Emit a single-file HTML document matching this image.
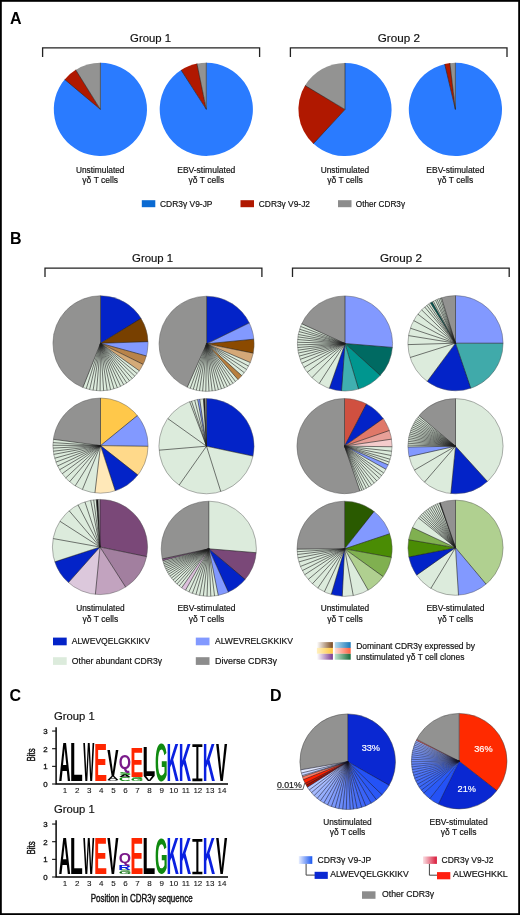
<!DOCTYPE html>
<html><head><meta charset="utf-8"><style>
html,body{margin:0;padding:0;background:#fff;}
body{width:520px;height:915px;overflow:hidden;}
svg{display:block;font-family:"Liberation Sans", sans-serif;will-change:transform;}
</style></head><body>
<svg width="520" height="915" viewBox="0 0 520 915">
<defs><linearGradient id="g1"><stop offset="0" stop-color="#ffffff"/><stop offset="1" stop-color="#7a4a20"/></linearGradient><linearGradient id="g2"><stop offset="0" stop-color="#fff0c0"/><stop offset="1" stop-color="#ffc840"/></linearGradient><linearGradient id="g3"><stop offset="0" stop-color="#ffffff"/><stop offset="1" stop-color="#7a3a90"/></linearGradient><linearGradient id="g4"><stop offset="0" stop-color="#b8ddee"/><stop offset="1" stop-color="#1a78b8"/></linearGradient><linearGradient id="g5"><stop offset="0" stop-color="#ffe0d8"/><stop offset="1" stop-color="#ff6040"/></linearGradient><linearGradient id="g6"><stop offset="0" stop-color="#c0e4d0"/><stop offset="1" stop-color="#1a6a3a"/></linearGradient><linearGradient id="gb"><stop offset="0" stop-color="#e8eeff"/><stop offset="1" stop-color="#1a58f0"/></linearGradient><linearGradient id="gr"><stop offset="0" stop-color="#fae0e4"/><stop offset="1" stop-color="#d81838"/></linearGradient></defs>
<rect x="0" y="0" width="520" height="915" fill="#fff"/>
<text x="10" y="23.5" font-size="16" font-weight="bold" fill="#000">A</text>
<text x="150.6" y="42.2" font-size="11.6" text-anchor="middle" textLength="41" lengthAdjust="spacingAndGlyphs" fill="#111" stroke="#111" stroke-width="0.18">Group 1</text>
<text x="398.8" y="42.2" font-size="11.6" text-anchor="middle" textLength="42.2" lengthAdjust="spacingAndGlyphs" fill="#111" stroke="#111" stroke-width="0.18">Group 2</text>
<path d="M42.6,57.0V47.8H259.6V57.0" fill="none" stroke="#222" stroke-width="1.3"/>
<path d="M290.4,57.0V47.8H507.0V57.0" fill="none" stroke="#222" stroke-width="1.3"/>
<path d="M100.40,109.40L100.40,62.80A46.6,46.6 0 1,1 65.02,79.07Z" fill="#2a7bff"/>
<path d="M100.40,109.40L64.70,79.45A46.6,46.6 0 0,1 76.12,69.62Z" fill="#b01800"/>
<path d="M100.40,109.40L75.71,69.88A46.6,46.6 0 0,1 100.40,62.80Z" fill="#939392"/>
<path d="M100.40,109.40L100.40,62.80M100.40,109.40L64.70,79.45M100.40,109.40L75.71,69.88" fill="none" stroke="#222" stroke-width="0.6"/>
<path d="M206.30,109.30L206.30,62.70A46.6,46.6 0 1,1 181.54,69.82Z" fill="#2a7bff"/>
<path d="M206.30,109.30L181.12,70.09A46.6,46.6 0 0,1 197.41,63.56Z" fill="#b01800"/>
<path d="M206.30,109.30L196.93,63.65A46.6,46.6 0 0,1 206.30,62.70Z" fill="#939392"/>
<path d="M206.30,109.30L206.30,62.70M206.30,109.30L181.12,70.09M206.30,109.30L196.93,63.65" fill="none" stroke="#222" stroke-width="0.6"/>
<path d="M345.00,109.50L345.00,62.90A46.6,46.6 0 1,1 312.98,143.36Z" fill="#2a7bff"/>
<path d="M345.00,109.50L313.34,143.69A46.6,46.6 0 0,1 305.31,85.08Z" fill="#b01800"/>
<path d="M345.00,109.50L305.06,85.50A46.6,46.6 0 0,1 345.00,62.90Z" fill="#939392"/>
<path d="M345.00,109.50L345.00,62.90M345.00,109.50L313.34,143.69M345.00,109.50L305.06,85.50" fill="none" stroke="#222" stroke-width="0.6"/>
<path d="M455.40,109.40L455.40,62.80A46.6,46.6 0 1,1 445.16,63.94Z" fill="#2a7bff"/>
<path d="M455.40,109.40L444.68,64.05A46.6,46.6 0 0,1 450.37,63.07Z" fill="#b01800"/>
<path d="M455.40,109.40L449.88,63.13A46.6,46.6 0 0,1 455.40,62.80Z" fill="#939392"/>
<path d="M455.40,109.40L455.40,62.80M455.40,109.40L444.68,64.05M455.40,109.40L449.88,63.13" fill="none" stroke="#222" stroke-width="0.6"/>
<text x="100.2" y="172.8" font-size="8.5" text-anchor="middle" textLength="48.5" lengthAdjust="spacingAndGlyphs" fill="#111" stroke="#111" stroke-width="0.18">Unstimulated</text>
<text x="100.2" y="183.4" font-size="8.5" text-anchor="middle" fill="#111" stroke="#111" stroke-width="0.18">γδ T cells</text>
<text x="206.3" y="172.8" font-size="8.5" text-anchor="middle" fill="#111" stroke="#111" stroke-width="0.18">EBV-stimulated</text>
<text x="206.3" y="183.4" font-size="8.5" text-anchor="middle" fill="#111" stroke="#111" stroke-width="0.18">γδ T cells</text>
<text x="345.0" y="172.8" font-size="8.5" text-anchor="middle" textLength="48.5" lengthAdjust="spacingAndGlyphs" fill="#111" stroke="#111" stroke-width="0.18">Unstimulated</text>
<text x="345.0" y="183.4" font-size="8.5" text-anchor="middle" fill="#111" stroke="#111" stroke-width="0.18">γδ T cells</text>
<text x="455.4" y="172.8" font-size="8.5" text-anchor="middle" fill="#111" stroke="#111" stroke-width="0.18">EBV-stimulated</text>
<text x="455.4" y="183.4" font-size="8.5" text-anchor="middle" fill="#111" stroke="#111" stroke-width="0.18">γδ T cells</text>
<rect x="141.8" y="200.2" width="13.5" height="7" fill="#0a6ad2"/>
<text x="160" y="206.5" font-size="8.5" textLength="52.5" lengthAdjust="spacingAndGlyphs" fill="#111" stroke="#111" stroke-width="0.18">CDR3γ V9-JP</text>
<rect x="240.5" y="200.2" width="13.5" height="7" fill="#b01800"/>
<text x="258.8" y="206.5" font-size="8.5" textLength="51.2" lengthAdjust="spacingAndGlyphs" fill="#111" stroke="#111" stroke-width="0.18">CDR3γ V9-J2</text>
<rect x="338" y="200.2" width="13.5" height="7" fill="#8c8c8c"/>
<text x="355.8" y="206.5" font-size="8.5" textLength="49.2" lengthAdjust="spacingAndGlyphs" fill="#111" stroke="#111" stroke-width="0.18">Other CDR3γ</text>
<text x="10" y="243.8" font-size="16" font-weight="bold" fill="#000">B</text>
<text x="152.6" y="261.9" font-size="11.6" text-anchor="middle" textLength="41" lengthAdjust="spacingAndGlyphs" fill="#111" stroke="#111" stroke-width="0.18">Group 1</text>
<text x="401.0" y="261.9" font-size="11.6" text-anchor="middle" textLength="42.2" lengthAdjust="spacingAndGlyphs" fill="#111" stroke="#111" stroke-width="0.18">Group 2</text>
<path d="M45.0,277.1V268.1H261.9V277.1" fill="none" stroke="#222" stroke-width="1.3"/>
<path d="M292.5,277.1V268.1H509.2V277.1" fill="none" stroke="#222" stroke-width="1.3"/>
<path d="M100.50,343.30L100.50,295.70A47.6,47.6 0 0,1 141.30,318.78Z" fill="#0323c8"/>
<path d="M100.50,343.30L141.04,318.36A47.6,47.6 0 0,1 148.09,342.14Z" fill="#784000"/>
<path d="M100.50,343.30L148.07,341.64A47.6,47.6 0 0,1 146.26,356.42Z" fill="#8299ff"/>
<path d="M100.50,343.30L146.39,355.94A47.6,47.6 0 0,1 142.95,364.84Z" fill="#b8834a"/>
<path d="M100.50,343.30L143.17,364.39A47.6,47.6 0 0,1 139.06,371.21Z" fill="#d4aa78"/>
<path d="M100.50,343.30L139.35,370.81A47.6,47.6 0 0,1 136.89,373.99Z" fill="#dcebdc"/>
<path d="M100.50,343.30L137.21,373.61A47.6,47.6 0 0,1 134.52,376.60Z" fill="#dcebdc"/>
<path d="M100.50,343.30L134.86,376.24A47.6,47.6 0 0,1 131.96,379.02Z" fill="#dcebdc"/>
<path d="M100.50,343.30L132.33,378.69A47.6,47.6 0 0,1 129.23,381.25Z" fill="#dcebdc"/>
<path d="M100.50,343.30L129.62,380.95A47.6,47.6 0 0,1 126.34,383.28Z" fill="#dcebdc"/>
<path d="M100.50,343.30L126.76,383.00A47.6,47.6 0 0,1 123.31,385.08Z" fill="#dcebdc"/>
<path d="M100.50,343.30L123.75,384.84A47.6,47.6 0 0,1 120.16,386.65Z" fill="#dcebdc"/>
<path d="M100.50,343.30L120.61,386.44A47.6,47.6 0 0,1 116.89,387.99Z" fill="#dcebdc"/>
<path d="M100.50,343.30L117.36,387.81A47.6,47.6 0 0,1 113.54,389.08Z" fill="#dcebdc"/>
<path d="M100.50,343.30L114.02,388.94A47.6,47.6 0 0,1 110.12,389.92Z" fill="#dcebdc"/>
<path d="M100.50,343.30L110.60,389.82A47.6,47.6 0 0,1 106.64,390.50Z" fill="#dcebdc"/>
<path d="M100.50,343.30L107.13,390.44A47.6,47.6 0 0,1 103.13,390.83Z" fill="#dcebdc"/>
<path d="M100.50,343.30L103.63,390.80A47.6,47.6 0 0,1 99.60,390.89Z" fill="#dcebdc"/>
<path d="M100.50,343.30L100.10,390.90A47.6,47.6 0 0,1 96.08,390.69Z" fill="#dcebdc"/>
<path d="M100.50,343.30L96.58,390.74A47.6,47.6 0 0,1 92.59,390.24Z" fill="#dcebdc"/>
<path d="M100.50,343.30L93.08,390.32A47.6,47.6 0 0,1 89.14,389.52Z" fill="#dcebdc"/>
<path d="M100.50,343.30L89.62,389.64A47.6,47.6 0 0,1 85.75,388.56Z" fill="#dcebdc"/>
<path d="M100.50,343.30L86.22,388.71A47.6,47.6 0 0,1 82.44,387.34Z" fill="#dcebdc"/>
<path d="M100.50,343.30L82.90,387.53A47.6,47.6 0 0,1 100.50,295.70Z" fill="#929291"/>
<path d="M100.50,343.30L100.50,295.70M100.50,343.30L141.04,318.36M100.50,343.30L148.07,341.64M100.50,343.30L146.39,355.94M100.50,343.30L143.17,364.39M100.50,343.30L139.35,370.81M100.50,343.30L137.21,373.61M100.50,343.30L134.86,376.24M100.50,343.30L132.33,378.69M100.50,343.30L129.62,380.95M100.50,343.30L126.76,383.00M100.50,343.30L123.75,384.84M100.50,343.30L120.61,386.44M100.50,343.30L117.36,387.81M100.50,343.30L114.02,388.94M100.50,343.30L110.60,389.82M100.50,343.30L107.13,390.44M100.50,343.30L103.63,390.80M100.50,343.30L100.10,390.90M100.50,343.30L96.58,390.74M100.50,343.30L93.08,390.32M100.50,343.30L89.62,389.64M100.50,343.30L86.22,388.71M100.50,343.30L82.90,387.53" fill="none" stroke="#1e1e1e" stroke-width="0.6"/>
<circle cx="100.5" cy="343.3" r="47.6" fill="none" stroke="#555" stroke-width="0.45"/>
<path d="M206.60,343.80L206.60,296.20A47.6,47.6 0 0,1 249.56,323.31Z" fill="#0323c8"/>
<path d="M206.60,343.80L249.35,322.86A47.6,47.6 0 0,1 254.02,339.65Z" fill="#8299ff"/>
<path d="M206.60,343.80L253.97,339.16A47.6,47.6 0 0,1 253.18,353.62Z" fill="#8b4a00"/>
<path d="M206.60,343.80L253.28,353.13A47.6,47.6 0 0,1 250.15,363.01Z" fill="#d4a878"/>
<path d="M206.60,343.80L250.35,362.55A47.6,47.6 0 0,1 248.41,366.55Z" fill="#dcebdc"/>
<path d="M206.60,343.80L248.65,366.11A47.6,47.6 0 0,1 246.38,369.93Z" fill="#dcebdc"/>
<path d="M206.60,343.80L246.66,369.52A47.6,47.6 0 0,1 244.08,373.14Z" fill="#dcebdc"/>
<path d="M206.60,343.80L244.39,372.74A47.6,47.6 0 0,1 241.53,376.14Z" fill="#dcebdc"/>
<path d="M206.60,343.80L241.86,375.77A47.6,47.6 0 0,1 237.64,379.89Z" fill="#b87f3f"/>
<path d="M206.60,343.80L238.02,379.56A47.6,47.6 0 0,1 235.15,381.89Z" fill="#dcebdc"/>
<path d="M206.60,343.80L235.55,381.58A47.6,47.6 0 0,1 232.54,383.71Z" fill="#dcebdc"/>
<path d="M206.60,343.80L232.95,383.44A47.6,47.6 0 0,1 229.81,385.36Z" fill="#dcebdc"/>
<path d="M206.60,343.80L230.24,385.12A47.6,47.6 0 0,1 226.97,386.82Z" fill="#dcebdc"/>
<path d="M206.60,343.80L227.42,386.61A47.6,47.6 0 0,1 224.04,388.09Z" fill="#dcebdc"/>
<path d="M206.60,343.80L224.50,387.90A47.6,47.6 0 0,1 221.03,389.16Z" fill="#dcebdc"/>
<path d="M206.60,343.80L221.51,389.00A47.6,47.6 0 0,1 217.96,390.02Z" fill="#dcebdc"/>
<path d="M206.60,343.80L218.45,389.90A47.6,47.6 0 0,1 214.84,390.68Z" fill="#dcebdc"/>
<path d="M206.60,343.80L215.33,390.59A47.6,47.6 0 0,1 211.68,391.13Z" fill="#dcebdc"/>
<path d="M206.60,343.80L212.18,391.07A47.6,47.6 0 0,1 208.50,391.36Z" fill="#dcebdc"/>
<path d="M206.60,343.80L209.00,391.34A47.6,47.6 0 0,1 205.31,391.38Z" fill="#dcebdc"/>
<path d="M206.60,343.80L205.81,391.39A47.6,47.6 0 0,1 202.13,391.19Z" fill="#dcebdc"/>
<path d="M206.60,343.80L202.62,391.23A47.6,47.6 0 0,1 198.96,390.78Z" fill="#dcebdc"/>
<path d="M206.60,343.80L199.45,390.86A47.6,47.6 0 0,1 195.83,390.17Z" fill="#dcebdc"/>
<path d="M206.60,343.80L196.32,390.28A47.6,47.6 0 0,1 192.75,389.34Z" fill="#dcebdc"/>
<path d="M206.60,343.80L193.23,389.48A47.6,47.6 0 0,1 189.73,388.31Z" fill="#dcebdc"/>
<path d="M206.60,343.80L190.20,388.48A47.6,47.6 0 0,1 186.79,387.08Z" fill="#dcebdc"/>
<path d="M206.60,343.80L187.24,387.28A47.6,47.6 0 0,1 206.60,296.20Z" fill="#929291"/>
<path d="M206.60,343.80L206.60,296.20M206.60,343.80L249.35,322.86M206.60,343.80L253.97,339.16M206.60,343.80L253.28,353.13M206.60,343.80L250.35,362.55M206.60,343.80L248.65,366.11M206.60,343.80L246.66,369.52M206.60,343.80L244.39,372.74M206.60,343.80L241.86,375.77M206.60,343.80L238.02,379.56M206.60,343.80L235.55,381.58M206.60,343.80L232.95,383.44M206.60,343.80L230.24,385.12M206.60,343.80L227.42,386.61M206.60,343.80L224.50,387.90M206.60,343.80L221.51,389.00M206.60,343.80L218.45,389.90M206.60,343.80L215.33,390.59M206.60,343.80L212.18,391.07M206.60,343.80L209.00,391.34M206.60,343.80L205.81,391.39M206.60,343.80L202.62,391.23M206.60,343.80L199.45,390.86M206.60,343.80L196.32,390.28M206.60,343.80L193.23,389.48M206.60,343.80L190.20,388.48M206.60,343.80L187.24,387.28" fill="none" stroke="#1e1e1e" stroke-width="0.6"/>
<circle cx="206.6" cy="343.8" r="47.6" fill="none" stroke="#555" stroke-width="0.45"/>
<path d="M345.00,343.50L345.00,295.90A47.6,47.6 0 0,1 392.40,347.90Z" fill="#8299ff"/>
<path d="M345.00,343.50L392.44,347.40A47.6,47.6 0 0,1 380.04,375.72Z" fill="#006a62"/>
<path d="M345.00,343.50L380.37,375.35A47.6,47.6 0 0,1 358.12,389.26Z" fill="#00968f"/>
<path d="M345.00,343.50L358.60,389.12A47.6,47.6 0 0,1 341.02,390.93Z" fill="#40b0b0"/>
<path d="M345.00,343.50L341.51,390.97A47.6,47.6 0 0,1 328.88,388.29Z" fill="#0323c8"/>
<path d="M345.00,343.50L329.35,388.45A47.6,47.6 0 0,1 318.80,383.24Z" fill="#dcebdc"/>
<path d="M345.00,343.50L319.21,383.51A47.6,47.6 0 0,1 311.58,377.39Z" fill="#dcebdc"/>
<path d="M345.00,343.50L311.93,377.74A47.6,47.6 0 0,1 306.84,371.95Z" fill="#dcebdc"/>
<path d="M345.00,343.50L307.14,372.35A47.6,47.6 0 0,1 303.65,367.08Z" fill="#dcebdc"/>
<path d="M345.00,343.50L303.90,367.52A47.6,47.6 0 0,1 301.48,362.78Z" fill="#dcebdc"/>
<path d="M345.00,343.50L301.69,363.24A47.6,47.6 0 0,1 299.97,358.92Z" fill="#dcebdc"/>
<path d="M345.00,343.50L300.13,359.39A47.6,47.6 0 0,1 298.98,355.66Z" fill="#dcebdc"/>
<path d="M345.00,343.50L299.11,356.14A47.6,47.6 0 0,1 298.26,352.50Z" fill="#dcebdc"/>
<path d="M345.00,343.50L298.36,352.99A47.6,47.6 0 0,1 297.81,349.71Z" fill="#dcebdc"/>
<path d="M345.00,343.50L297.87,350.21A47.6,47.6 0 0,1 297.53,347.07Z" fill="#dcebdc"/>
<path d="M345.00,343.50L297.57,347.57A47.6,47.6 0 0,1 297.41,344.41Z" fill="#dcebdc"/>
<path d="M345.00,343.50L297.42,344.91A47.6,47.6 0 0,1 297.43,341.76Z" fill="#dcebdc"/>
<path d="M345.00,343.50L297.42,342.25A47.6,47.6 0 0,1 297.61,339.02Z" fill="#dcebdc"/>
<path d="M345.00,343.50L297.57,339.52A47.6,47.6 0 0,1 297.94,336.38Z" fill="#dcebdc"/>
<path d="M345.00,343.50L297.86,336.88A47.6,47.6 0 0,1 298.37,333.93Z" fill="#dcebdc"/>
<path d="M345.00,343.50L298.27,334.42A47.6,47.6 0 0,1 299.04,331.10Z" fill="#dcebdc"/>
<path d="M345.00,343.50L298.92,331.58A47.6,47.6 0 0,1 299.76,328.71Z" fill="#dcebdc"/>
<path d="M345.00,343.50L299.60,329.19A47.6,47.6 0 0,1 300.74,325.98Z" fill="#dcebdc"/>
<path d="M345.00,343.50L300.56,326.44A47.6,47.6 0 0,1 301.89,323.31Z" fill="#dcebdc"/>
<path d="M345.00,343.50L301.69,323.76A47.6,47.6 0 0,1 345.00,295.90Z" fill="#929291"/>
<path d="M345.00,343.50L345.00,295.90M345.00,343.50L392.44,347.40M345.00,343.50L380.37,375.35M345.00,343.50L358.60,389.12M345.00,343.50L341.51,390.97M345.00,343.50L329.35,388.45M345.00,343.50L319.21,383.51M345.00,343.50L311.93,377.74M345.00,343.50L307.14,372.35M345.00,343.50L303.90,367.52M345.00,343.50L301.69,363.24M345.00,343.50L300.13,359.39M345.00,343.50L299.11,356.14M345.00,343.50L298.36,352.99M345.00,343.50L297.87,350.21M345.00,343.50L297.57,347.57M345.00,343.50L297.42,344.91M345.00,343.50L297.42,342.25M345.00,343.50L297.57,339.52M345.00,343.50L297.86,336.88M345.00,343.50L298.27,334.42M345.00,343.50L298.92,331.58M345.00,343.50L299.60,329.19M345.00,343.50L300.56,326.44M345.00,343.50L301.69,323.76" fill="none" stroke="#1e1e1e" stroke-width="0.6"/>
<circle cx="345.0" cy="343.5" r="47.6" fill="none" stroke="#555" stroke-width="0.45"/>
<path d="M455.50,343.20L455.50,295.60A47.6,47.6 0 0,1 503.10,343.70Z" fill="#8299ff"/>
<path d="M455.50,343.20L503.10,343.20A47.6,47.6 0 0,1 470.29,388.44Z" fill="#40aaaa"/>
<path d="M455.50,343.20L470.76,388.29A47.6,47.6 0 0,1 426.79,381.16Z" fill="#0323c8"/>
<path d="M455.50,343.20L427.19,381.46A47.6,47.6 0 0,1 409.96,357.04Z" fill="#dcebdc"/>
<path d="M455.50,343.20L410.10,357.51A47.6,47.6 0 0,1 407.91,344.11Z" fill="#dcebdc"/>
<path d="M455.50,343.20L407.92,344.61A47.6,47.6 0 0,1 408.59,335.10Z" fill="#dcebdc"/>
<path d="M455.50,343.20L408.51,335.59A47.6,47.6 0 0,1 410.49,327.70Z" fill="#dcebdc"/>
<path d="M455.50,343.20L410.33,328.18A47.6,47.6 0 0,1 413.87,320.12Z" fill="#dcebdc"/>
<path d="M455.50,343.20L413.63,320.56A47.6,47.6 0 0,1 418.14,313.70Z" fill="#dcebdc"/>
<path d="M455.50,343.20L417.84,314.09A47.6,47.6 0 0,1 421.90,309.48Z" fill="#dcebdc"/>
<path d="M455.50,343.20L421.55,309.84A47.6,47.6 0 0,1 425.03,306.63Z" fill="#dcebdc"/>
<path d="M455.50,343.20L424.65,306.95A47.6,47.6 0 0,1 427.12,304.99Z" fill="#dcebdc"/>
<path d="M455.50,343.20L426.72,305.29A47.6,47.6 0 0,1 429.02,303.65Z" fill="#dcebdc"/>
<path d="M455.50,343.20L428.61,303.92A47.6,47.6 0 0,1 430.70,302.57Z" fill="#dcebdc"/>
<path d="M455.50,343.20L430.28,302.83A47.6,47.6 0 0,1 432.50,301.53Z" fill="#005a55"/>
<path d="M455.50,343.20L432.06,301.77A47.6,47.6 0 0,1 433.74,300.86Z" fill="#dcebdc"/>
<path d="M455.50,343.20L433.30,301.09A47.6,47.6 0 0,1 435.91,299.82Z" fill="#dcebdc"/>
<path d="M455.50,343.20L435.46,300.02A47.6,47.6 0 0,1 437.51,299.13Z" fill="#dcebdc"/>
<path d="M455.50,343.20L437.05,299.32A47.6,47.6 0 0,1 439.22,298.47Z" fill="#dcebdc"/>
<path d="M455.50,343.20L438.75,298.64A47.6,47.6 0 0,1 440.79,297.93Z" fill="#dcebdc"/>
<path d="M455.50,343.20L440.32,298.09A47.6,47.6 0 0,1 441.90,297.58Z" fill="#dcebdc"/>
<path d="M455.50,343.20L441.42,297.73A47.6,47.6 0 0,1 455.50,295.60Z" fill="#929291"/>
<path d="M455.50,343.20L455.50,295.60M455.50,343.20L503.10,343.20M455.50,343.20L470.76,388.29M455.50,343.20L427.19,381.46M455.50,343.20L410.10,357.51M455.50,343.20L407.92,344.61M455.50,343.20L408.51,335.59M455.50,343.20L410.33,328.18M455.50,343.20L413.63,320.56M455.50,343.20L417.84,314.09M455.50,343.20L421.55,309.84M455.50,343.20L424.65,306.95M455.50,343.20L426.72,305.29M455.50,343.20L428.61,303.92M455.50,343.20L430.28,302.83M455.50,343.20L432.06,301.77M455.50,343.20L433.30,301.09M455.50,343.20L435.46,300.02M455.50,343.20L437.05,299.32M455.50,343.20L438.75,298.64M455.50,343.20L440.32,298.09M455.50,343.20L441.42,297.73" fill="none" stroke="#1e1e1e" stroke-width="0.6"/>
<circle cx="455.5" cy="343.2" r="47.6" fill="none" stroke="#555" stroke-width="0.45"/>
<path d="M100.50,445.60L100.50,398.00A47.6,47.6 0 0,1 137.70,415.90Z" fill="#ffc84a"/>
<path d="M100.50,445.60L137.39,415.52A47.6,47.6 0 0,1 148.09,446.76Z" fill="#8299ff"/>
<path d="M100.50,445.60L148.10,446.26A47.6,47.6 0 0,1 137.60,475.43Z" fill="#ffd98a"/>
<path d="M100.50,445.60L137.91,475.04A47.6,47.6 0 0,1 114.81,491.00Z" fill="#0323c8"/>
<path d="M100.50,445.60L115.29,490.84A47.6,47.6 0 0,1 94.45,492.81Z" fill="#ffe8b8"/>
<path d="M100.50,445.60L94.95,492.87A47.6,47.6 0 0,1 81.90,489.42Z" fill="#dcebdc"/>
<path d="M100.50,445.60L82.36,489.61A47.6,47.6 0 0,1 74.78,485.66Z" fill="#dcebdc"/>
<path d="M100.50,445.60L75.21,485.92A47.6,47.6 0 0,1 69.21,481.47Z" fill="#dcebdc"/>
<path d="M100.50,445.60L69.59,481.80A47.6,47.6 0 0,1 65.29,477.64Z" fill="#dcebdc"/>
<path d="M100.50,445.60L65.63,478.00A47.6,47.6 0 0,1 61.84,473.38Z" fill="#dcebdc"/>
<path d="M100.50,445.60L62.14,473.78A47.6,47.6 0 0,1 59.28,469.40Z" fill="#dcebdc"/>
<path d="M100.50,445.60L59.53,469.83A47.6,47.6 0 0,1 57.29,465.57Z" fill="#dcebdc"/>
<path d="M100.50,445.60L57.50,466.02A47.6,47.6 0 0,1 55.69,461.65Z" fill="#dcebdc"/>
<path d="M100.50,445.60L55.86,462.11A47.6,47.6 0 0,1 54.48,457.76Z" fill="#dcebdc"/>
<path d="M100.50,445.60L54.61,458.24A47.6,47.6 0 0,1 53.62,453.87Z" fill="#dcebdc"/>
<path d="M100.50,445.60L53.71,454.36A47.6,47.6 0 0,1 53.18,450.74Z" fill="#dcebdc"/>
<path d="M100.50,445.60L53.23,451.24A47.6,47.6 0 0,1 52.94,447.59Z" fill="#dcebdc"/>
<path d="M100.50,445.60L52.97,448.09A47.6,47.6 0 0,1 52.91,444.77Z" fill="#dcebdc"/>
<path d="M100.50,445.60L52.90,445.27A47.6,47.6 0 0,1 53.03,442.11Z" fill="#dcebdc"/>
<path d="M100.50,445.60L52.99,442.61A47.6,47.6 0 0,1 53.39,438.81Z" fill="#dcebdc"/>
<path d="M100.50,445.60L53.32,439.30A47.6,47.6 0 0,1 100.50,398.00Z" fill="#929291"/>
<path d="M100.50,445.60L100.50,398.00M100.50,445.60L137.39,415.52M100.50,445.60L148.10,446.26M100.50,445.60L137.91,475.04M100.50,445.60L115.29,490.84M100.50,445.60L94.95,492.87M100.50,445.60L82.36,489.61M100.50,445.60L75.21,485.92M100.50,445.60L69.59,481.80M100.50,445.60L65.63,478.00M100.50,445.60L62.14,473.78M100.50,445.60L59.53,469.83M100.50,445.60L57.50,466.02M100.50,445.60L55.86,462.11M100.50,445.60L54.61,458.24M100.50,445.60L53.71,454.36M100.50,445.60L53.23,451.24M100.50,445.60L52.97,448.09M100.50,445.60L52.90,445.27M100.50,445.60L52.99,442.61M100.50,445.60L53.32,439.30" fill="none" stroke="#1e1e1e" stroke-width="0.6"/>
<circle cx="100.5" cy="445.6" r="47.6" fill="none" stroke="#555" stroke-width="0.45"/>
<path d="M206.50,446.20L206.50,398.60A47.6,47.6 0 0,1 252.95,456.58Z" fill="#0323c8"/>
<path d="M206.50,446.20L253.06,456.10A47.6,47.6 0 0,1 220.34,491.74Z" fill="#dcebdc"/>
<path d="M206.50,446.20L220.81,491.60A47.6,47.6 0 0,1 178.72,484.86Z" fill="#dcebdc"/>
<path d="M206.50,446.20L179.13,485.14A47.6,47.6 0 0,1 159.03,449.69Z" fill="#dcebdc"/>
<path d="M206.50,446.20L159.07,450.18A47.6,47.6 0 0,1 168.04,418.15Z" fill="#dcebdc"/>
<path d="M206.50,446.20L167.75,418.56A47.6,47.6 0 0,1 190.14,401.50Z" fill="#dcebdc"/>
<path d="M206.50,446.20L189.67,401.67A47.6,47.6 0 0,1 191.95,400.88Z" fill="#dcebdc"/>
<path d="M206.50,446.20L191.48,401.03A47.6,47.6 0 0,1 195.15,399.97Z" fill="#dcebdc"/>
<path d="M206.50,446.20L194.66,400.10A47.6,47.6 0 0,1 198.07,399.35Z" fill="#dcebdc"/>
<path d="M206.50,446.20L197.58,399.44A47.6,47.6 0 0,1 200.20,399.02Z" fill="#8299ff"/>
<path d="M206.50,446.20L199.71,399.09A47.6,47.6 0 0,1 203.93,398.67Z" fill="#d6e2d6"/>
<path d="M206.50,446.20L203.43,398.70A47.6,47.6 0 0,1 205.09,398.62Z" fill="#111"/>
<path d="M206.50,446.20L204.59,398.64A47.6,47.6 0 0,1 206.50,398.60Z" fill="#929291"/>
<path d="M206.50,446.20L206.50,398.60M206.50,446.20L253.06,456.10M206.50,446.20L220.81,491.60M206.50,446.20L179.13,485.14M206.50,446.20L159.07,450.18M206.50,446.20L167.75,418.56M206.50,446.20L189.67,401.67M206.50,446.20L191.48,401.03M206.50,446.20L194.66,400.10M206.50,446.20L197.58,399.44M206.50,446.20L199.71,399.09M206.50,446.20L203.43,398.70M206.50,446.20L204.59,398.64" fill="none" stroke="#1e1e1e" stroke-width="0.6"/>
<circle cx="206.5" cy="446.2" r="47.6" fill="none" stroke="#555" stroke-width="0.45"/>
<path d="M344.50,446.10L344.50,398.50A47.6,47.6 0 0,1 366.92,404.11Z" fill="#d05040"/>
<path d="M344.50,446.10L366.48,403.88A47.6,47.6 0 0,1 383.54,418.87Z" fill="#0323c8"/>
<path d="M344.50,446.10L383.25,418.46A47.6,47.6 0 0,1 389.61,430.92Z" fill="#e07868"/>
<path d="M344.50,446.10L389.45,430.45A47.6,47.6 0 0,1 391.66,439.64Z" fill="#e8a098"/>
<path d="M344.50,446.10L391.59,439.15A47.6,47.6 0 0,1 392.09,447.26Z" fill="#f4cccc"/>
<path d="M344.50,446.10L392.10,446.76A47.6,47.6 0 0,1 391.77,451.74Z" fill="#dcebdc"/>
<path d="M344.50,446.10L391.82,451.24A47.6,47.6 0 0,1 391.06,456.00Z" fill="#dcebdc"/>
<path d="M344.50,446.10L391.16,455.51A47.6,47.6 0 0,1 390.09,459.78Z" fill="#dcebdc"/>
<path d="M344.50,446.10L390.23,459.30A47.6,47.6 0 0,1 389.14,462.61Z" fill="#dcebdc"/>
<path d="M344.50,446.10L389.31,462.15A47.6,47.6 0 0,1 388.05,465.31Z" fill="#dcebdc"/>
<path d="M344.50,446.10L388.25,464.85A47.6,47.6 0 0,1 385.81,469.76Z" fill="#8299ff"/>
<path d="M344.50,446.10L386.05,469.32A47.6,47.6 0 0,1 383.49,473.40Z" fill="#dcebdc"/>
<path d="M344.50,446.10L383.78,472.99A47.6,47.6 0 0,1 381.44,476.12Z" fill="#dcebdc"/>
<path d="M344.50,446.10L381.75,475.73A47.6,47.6 0 0,1 379.20,478.68Z" fill="#dcebdc"/>
<path d="M344.50,446.10L379.54,478.32A47.6,47.6 0 0,1 376.54,481.31Z" fill="#dcebdc"/>
<path d="M344.50,446.10L376.90,480.97A47.6,47.6 0 0,1 373.94,483.51Z" fill="#dcebdc"/>
<path d="M344.50,446.10L374.33,483.20A47.6,47.6 0 0,1 371.19,485.52Z" fill="#dcebdc"/>
<path d="M344.50,446.10L371.60,485.23A47.6,47.6 0 0,1 368.59,487.16Z" fill="#dcebdc"/>
<path d="M344.50,446.10L369.02,486.90A47.6,47.6 0 0,1 365.96,488.59Z" fill="#dcebdc"/>
<path d="M344.50,446.10L366.41,488.36A47.6,47.6 0 0,1 363.33,489.82Z" fill="#dcebdc"/>
<path d="M344.50,446.10L363.78,489.62A47.6,47.6 0 0,1 361.40,490.60Z" fill="#dcebdc"/>
<path d="M344.50,446.10L361.87,490.42A47.6,47.6 0 0,1 359.52,491.27Z" fill="#dcebdc"/>
<path d="M344.50,446.10L360.00,491.11A47.6,47.6 0 1,1 344.50,398.50Z" fill="#929291"/>
<path d="M344.50,446.10L344.50,398.50M344.50,446.10L366.48,403.88M344.50,446.10L383.25,418.46M344.50,446.10L389.45,430.45M344.50,446.10L391.59,439.15M344.50,446.10L392.10,446.76M344.50,446.10L391.82,451.24M344.50,446.10L391.16,455.51M344.50,446.10L390.23,459.30M344.50,446.10L389.31,462.15M344.50,446.10L388.25,464.85M344.50,446.10L386.05,469.32M344.50,446.10L383.78,472.99M344.50,446.10L381.75,475.73M344.50,446.10L379.54,478.32M344.50,446.10L376.90,480.97M344.50,446.10L374.33,483.20M344.50,446.10L371.60,485.23M344.50,446.10L369.02,486.90M344.50,446.10L366.41,488.36M344.50,446.10L363.78,489.62M344.50,446.10L361.87,490.42M344.50,446.10L360.00,491.11" fill="none" stroke="#1e1e1e" stroke-width="0.6"/>
<circle cx="344.5" cy="446.1" r="47.6" fill="none" stroke="#555" stroke-width="0.45"/>
<path d="M455.50,446.20L455.50,398.60A47.6,47.6 0 0,1 487.10,481.80Z" fill="#dcebdc"/>
<path d="M455.50,446.20L487.47,481.46A47.6,47.6 0 0,1 450.36,493.52Z" fill="#0323c8"/>
<path d="M455.50,446.20L450.86,493.57A47.6,47.6 0 0,1 424.02,481.91Z" fill="#dcebdc"/>
<path d="M455.50,446.20L424.40,482.23A47.6,47.6 0 0,1 414.11,469.71Z" fill="#dcebdc"/>
<path d="M455.50,446.20L414.36,470.14A47.6,47.6 0 0,1 408.96,456.18Z" fill="#dcebdc"/>
<path d="M455.50,446.20L409.06,456.66A47.6,47.6 0 0,1 407.90,446.53Z" fill="#8299ff"/>
<path d="M455.50,446.20L407.91,447.03A47.6,47.6 0 0,1 407.93,444.64Z" fill="#dcebdc"/>
<path d="M455.50,446.20L407.91,445.14A47.6,47.6 0 0,1 408.03,442.75Z" fill="#dcebdc"/>
<path d="M455.50,446.20L407.99,443.25A47.6,47.6 0 0,1 408.20,440.87Z" fill="#dcebdc"/>
<path d="M455.50,446.20L408.15,441.36A47.6,47.6 0 0,1 408.45,438.99Z" fill="#dcebdc"/>
<path d="M455.50,446.20L408.38,439.48A47.6,47.6 0 0,1 408.77,437.13Z" fill="#dcebdc"/>
<path d="M455.50,446.20L408.68,437.62A47.6,47.6 0 0,1 409.17,435.28Z" fill="#dcebdc"/>
<path d="M455.50,446.20L409.06,435.76A47.6,47.6 0 0,1 409.64,433.44Z" fill="#dcebdc"/>
<path d="M455.50,446.20L409.51,433.92A47.6,47.6 0 0,1 410.18,431.63Z" fill="#dcebdc"/>
<path d="M455.50,446.20L410.03,432.11A47.6,47.6 0 0,1 410.80,429.84Z" fill="#dcebdc"/>
<path d="M455.50,446.20L410.63,430.31A47.6,47.6 0 0,1 411.48,428.08Z" fill="#dcebdc"/>
<path d="M455.50,446.20L411.30,428.54A47.6,47.6 0 0,1 412.24,426.34Z" fill="#dcebdc"/>
<path d="M455.50,446.20L412.03,426.80A47.6,47.6 0 0,1 413.06,424.64Z" fill="#dcebdc"/>
<path d="M455.50,446.20L412.84,425.08A47.6,47.6 0 0,1 413.95,422.97Z" fill="#dcebdc"/>
<path d="M455.50,446.20L413.71,423.41A47.6,47.6 0 0,1 414.91,421.34Z" fill="#dcebdc"/>
<path d="M455.50,446.20L414.65,421.76A47.6,47.6 0 0,1 415.93,419.74Z" fill="#dcebdc"/>
<path d="M455.50,446.20L415.65,420.16A47.6,47.6 0 0,1 417.01,418.19Z" fill="#dcebdc"/>
<path d="M455.50,446.20L416.72,418.60A47.6,47.6 0 0,1 418.16,416.68Z" fill="#dcebdc"/>
<path d="M455.50,446.20L417.85,417.08A47.6,47.6 0 0,1 419.36,415.22Z" fill="#dcebdc"/>
<path d="M455.50,446.20L419.04,415.60A47.6,47.6 0 0,1 455.50,398.60Z" fill="#929291"/>
<path d="M455.50,446.20L455.50,398.60M455.50,446.20L487.47,481.46M455.50,446.20L450.86,493.57M455.50,446.20L424.40,482.23M455.50,446.20L414.36,470.14M455.50,446.20L409.06,456.66M455.50,446.20L407.91,447.03M455.50,446.20L407.91,445.14M455.50,446.20L407.99,443.25M455.50,446.20L408.15,441.36M455.50,446.20L408.38,439.48M455.50,446.20L408.68,437.62M455.50,446.20L409.06,435.76M455.50,446.20L409.51,433.92M455.50,446.20L410.03,432.11M455.50,446.20L410.63,430.31M455.50,446.20L411.30,428.54M455.50,446.20L412.03,426.80M455.50,446.20L412.84,425.08M455.50,446.20L413.71,423.41M455.50,446.20L414.65,421.76M455.50,446.20L415.65,420.16M455.50,446.20L416.72,418.60M455.50,446.20L417.85,417.08M455.50,446.20L419.04,415.60" fill="none" stroke="#1e1e1e" stroke-width="0.6"/>
<circle cx="455.5" cy="446.2" r="47.6" fill="none" stroke="#555" stroke-width="0.45"/>
<path d="M100.00,547.00L100.00,499.40A47.6,47.6 0 0,1 146.52,557.06Z" fill="#7a4878"/>
<path d="M100.00,547.00L146.63,556.57A47.6,47.6 0 0,1 125.22,587.37Z" fill="#a27f9f"/>
<path d="M100.00,547.00L125.65,587.10A47.6,47.6 0 0,1 94.86,594.32Z" fill="#c2a3bf"/>
<path d="M100.00,547.00L95.36,594.37A47.6,47.6 0 0,1 68.03,582.26Z" fill="#dcc8dc"/>
<path d="M100.00,547.00L68.40,582.60A47.6,47.6 0 0,1 54.63,561.39Z" fill="#0323c8"/>
<path d="M100.00,547.00L54.78,561.87A47.6,47.6 0 0,1 53.24,538.08Z" fill="#dcebdc"/>
<path d="M100.00,547.00L53.15,538.57A47.6,47.6 0 0,1 60.22,520.87Z" fill="#dcebdc"/>
<path d="M100.00,547.00L59.94,521.28A47.6,47.6 0 0,1 69.53,510.43Z" fill="#dcebdc"/>
<path d="M100.00,547.00L69.15,510.75A47.6,47.6 0 0,1 78.39,504.59Z" fill="#dcebdc"/>
<path d="M100.00,547.00L77.95,504.82A47.6,47.6 0 0,1 85.37,501.70Z" fill="#dcebdc"/>
<path d="M100.00,547.00L84.90,501.86A47.6,47.6 0 0,1 91.16,500.23Z" fill="#dcebdc"/>
<path d="M100.00,547.00L90.67,500.32A47.6,47.6 0 0,1 94.20,499.75Z" fill="#dcebdc"/>
<path d="M100.00,547.00L93.70,499.82A47.6,47.6 0 0,1 96.76,499.51Z" fill="#dcebdc"/>
<path d="M100.00,547.00L96.27,499.55A47.6,47.6 0 0,1 98.42,499.43Z" fill="#111"/>
<path d="M100.00,547.00L97.92,499.45A47.6,47.6 0 0,1 100.00,499.40Z" fill="#bbbbbb"/>
<path d="M100.00,547.00L100.00,499.40M100.00,547.00L146.63,556.57M100.00,547.00L125.65,587.10M100.00,547.00L95.36,594.37M100.00,547.00L68.40,582.60M100.00,547.00L54.78,561.87M100.00,547.00L53.15,538.57M100.00,547.00L59.94,521.28M100.00,547.00L69.15,510.75M100.00,547.00L77.95,504.82M100.00,547.00L84.90,501.86M100.00,547.00L90.67,500.32M100.00,547.00L93.70,499.82M100.00,547.00L96.27,499.55M100.00,547.00L97.92,499.45" fill="none" stroke="#1e1e1e" stroke-width="0.6"/>
<circle cx="100.0" cy="547.0" r="47.6" fill="none" stroke="#555" stroke-width="0.45"/>
<path d="M208.80,548.80L208.80,501.20A47.6,47.6 0 0,1 256.20,553.20Z" fill="#dcebdc"/>
<path d="M208.80,548.80L256.24,552.70A47.6,47.6 0 0,1 244.83,579.90Z" fill="#7a4878"/>
<path d="M208.80,548.80L245.16,579.52A47.6,47.6 0 0,1 228.01,592.35Z" fill="#0323c8"/>
<path d="M208.80,548.80L228.46,592.15A47.6,47.6 0 0,1 217.80,595.54Z" fill="#8299ff"/>
<path d="M208.80,548.80L218.29,595.44A47.6,47.6 0 0,1 214.08,596.11Z" fill="#dcebdc"/>
<path d="M208.80,548.80L214.57,596.05A47.6,47.6 0 0,1 210.32,596.38Z" fill="#dcebdc"/>
<path d="M208.80,548.80L210.82,596.36A47.6,47.6 0 0,1 206.56,596.35Z" fill="#dcebdc"/>
<path d="M208.80,548.80L207.06,596.37A47.6,47.6 0 0,1 202.81,596.02Z" fill="#dcebdc"/>
<path d="M208.80,548.80L203.30,596.08A47.6,47.6 0 0,1 199.09,595.40Z" fill="#dcebdc"/>
<path d="M208.80,548.80L199.58,595.50A47.6,47.6 0 0,1 195.44,594.49Z" fill="#dcebdc"/>
<path d="M208.80,548.80L195.92,594.62A47.6,47.6 0 0,1 191.87,593.29Z" fill="#dcebdc"/>
<path d="M208.80,548.80L192.34,593.46A47.6,47.6 0 0,1 188.41,591.81Z" fill="#dcebdc"/>
<path d="M208.80,548.80L188.86,592.02A47.6,47.6 0 0,1 185.07,590.06Z" fill="#dcebdc"/>
<path d="M208.80,548.80L185.51,590.31A47.6,47.6 0 0,1 181.23,587.60Z" fill="#dcc0dc"/>
<path d="M208.80,548.80L181.63,587.89A47.6,47.6 0 0,1 178.73,585.70Z" fill="#dcebdc"/>
<path d="M208.80,548.80L179.11,586.01A47.6,47.6 0 0,1 176.47,583.74Z" fill="#dcebdc"/>
<path d="M208.80,548.80L176.84,584.08A47.6,47.6 0 0,1 174.45,581.75Z" fill="#dcebdc"/>
<path d="M208.80,548.80L174.80,582.11A47.6,47.6 0 0,1 172.64,579.76Z" fill="#dcebdc"/>
<path d="M208.80,548.80L172.97,580.13A47.6,47.6 0 0,1 171.03,577.77Z" fill="#dcebdc"/>
<path d="M208.80,548.80L171.34,578.16A47.6,47.6 0 0,1 169.60,575.80Z" fill="#dcebdc"/>
<path d="M208.80,548.80L169.89,576.21A47.6,47.6 0 0,1 168.34,573.87Z" fill="#dcebdc"/>
<path d="M208.80,548.80L168.60,574.29A47.6,47.6 0 0,1 167.22,571.98Z" fill="#dcebdc"/>
<path d="M208.80,548.80L167.47,572.41A47.6,47.6 0 0,1 166.25,570.14Z" fill="#dcebdc"/>
<path d="M208.80,548.80L166.48,570.58A47.6,47.6 0 0,1 165.40,568.35Z" fill="#dcebdc"/>
<path d="M208.80,548.80L165.61,568.80A47.6,47.6 0 0,1 164.66,566.62Z" fill="#dcebdc"/>
<path d="M208.80,548.80L164.85,567.08A47.6,47.6 0 0,1 164.02,564.95Z" fill="#dcebdc"/>
<path d="M208.80,548.80L164.19,565.42A47.6,47.6 0 0,1 163.48,563.34Z" fill="#dcebdc"/>
<path d="M208.80,548.80L163.63,563.81A47.6,47.6 0 0,1 163.01,561.80Z" fill="#dcebdc"/>
<path d="M208.80,548.80L163.15,562.27A47.6,47.6 0 0,1 162.61,560.32Z" fill="#dcebdc"/>
<path d="M208.80,548.80L162.74,560.80A47.6,47.6 0 0,1 162.19,558.45Z" fill="#8a5a8a"/>
<path d="M208.80,548.80L162.29,558.94A47.6,47.6 0 0,1 208.80,501.20Z" fill="#929291"/>
<path d="M208.80,548.80L208.80,501.20M208.80,548.80L256.24,552.70M208.80,548.80L245.16,579.52M208.80,548.80L228.46,592.15M208.80,548.80L218.29,595.44M208.80,548.80L214.57,596.05M208.80,548.80L210.82,596.36M208.80,548.80L207.06,596.37M208.80,548.80L203.30,596.08M208.80,548.80L199.58,595.50M208.80,548.80L195.92,594.62M208.80,548.80L192.34,593.46M208.80,548.80L188.86,592.02M208.80,548.80L185.51,590.31M208.80,548.80L181.63,587.89M208.80,548.80L179.11,586.01M208.80,548.80L176.84,584.08M208.80,548.80L174.80,582.11M208.80,548.80L172.97,580.13M208.80,548.80L171.34,578.16M208.80,548.80L169.89,576.21M208.80,548.80L168.60,574.29M208.80,548.80L167.47,572.41M208.80,548.80L166.48,570.58M208.80,548.80L165.61,568.80M208.80,548.80L164.85,567.08M208.80,548.80L164.19,565.42M208.80,548.80L163.63,563.81M208.80,548.80L163.15,562.27M208.80,548.80L162.74,560.80M208.80,548.80L162.29,558.94" fill="none" stroke="#1e1e1e" stroke-width="0.6"/>
<circle cx="208.8" cy="548.8" r="47.6" fill="none" stroke="#555" stroke-width="0.45"/>
<path d="M344.60,548.80L344.60,501.20A47.6,47.6 0 0,1 374.43,511.70Z" fill="#2a5a00"/>
<path d="M344.60,548.80L374.04,511.39A47.6,47.6 0 0,1 389.90,534.17Z" fill="#8299ff"/>
<path d="M344.60,548.80L389.74,533.70A47.6,47.6 0 0,1 391.34,557.80Z" fill="#4a8c04"/>
<path d="M344.60,548.80L391.43,557.31A47.6,47.6 0 0,1 382.91,577.05Z" fill="#80b050"/>
<path d="M344.60,548.80L383.21,576.64A47.6,47.6 0 0,1 367.75,590.39Z" fill="#b0d090"/>
<path d="M344.60,548.80L368.18,590.15A47.6,47.6 0 0,1 352.78,595.69Z" fill="#dcebdc"/>
<path d="M344.60,548.80L353.27,595.60A47.6,47.6 0 0,1 341.78,596.32Z" fill="#dcebdc"/>
<path d="M344.60,548.80L342.27,596.34A47.6,47.6 0 0,1 330.76,594.34Z" fill="#0323c8"/>
<path d="M344.60,548.80L331.24,594.49A47.6,47.6 0 0,1 323.88,591.66Z" fill="#dcebdc"/>
<path d="M344.60,548.80L324.33,591.87A47.6,47.6 0 0,1 317.37,587.84Z" fill="#dcebdc"/>
<path d="M344.60,548.80L317.78,588.12A47.6,47.6 0 0,1 312.02,583.50Z" fill="#dcebdc"/>
<path d="M344.60,548.80L312.38,583.84A47.6,47.6 0 0,1 307.87,579.08Z" fill="#dcebdc"/>
<path d="M344.60,548.80L308.19,579.46A47.6,47.6 0 0,1 304.41,574.31Z" fill="#dcebdc"/>
<path d="M344.60,548.80L304.68,574.72A47.6,47.6 0 0,1 302.08,570.19Z" fill="#dcebdc"/>
<path d="M344.60,548.80L302.30,570.63A47.6,47.6 0 0,1 300.22,566.01Z" fill="#dcebdc"/>
<path d="M344.60,548.80L300.40,566.48A47.6,47.6 0 0,1 298.71,561.44Z" fill="#dcebdc"/>
<path d="M344.60,548.80L298.84,561.92A47.6,47.6 0 0,1 297.78,557.39Z" fill="#dcebdc"/>
<path d="M344.60,548.80L297.87,557.88A47.6,47.6 0 0,1 297.29,554.02Z" fill="#dcebdc"/>
<path d="M344.60,548.80L297.34,554.52A47.6,47.6 0 0,1 297.06,551.21Z" fill="#dcebdc"/>
<path d="M344.60,548.80L297.09,551.71A47.6,47.6 0 0,1 297.00,548.63Z" fill="#dcebdc"/>
<path d="M344.60,548.80L297.00,549.13A47.6,47.6 0 0,1 344.60,501.20Z" fill="#929291"/>
<path d="M344.60,548.80L344.60,501.20M344.60,548.80L374.04,511.39M344.60,548.80L389.74,533.70M344.60,548.80L391.43,557.31M344.60,548.80L383.21,576.64M344.60,548.80L368.18,590.15M344.60,548.80L353.27,595.60M344.60,548.80L342.27,596.34M344.60,548.80L331.24,594.49M344.60,548.80L324.33,591.87M344.60,548.80L317.78,588.12M344.60,548.80L312.38,583.84M344.60,548.80L308.19,579.46M344.60,548.80L304.68,574.72M344.60,548.80L302.30,570.63M344.60,548.80L300.40,566.48M344.60,548.80L298.84,561.92M344.60,548.80L297.87,557.88M344.60,548.80L297.34,554.52M344.60,548.80L297.09,551.71M344.60,548.80L297.00,549.13" fill="none" stroke="#1e1e1e" stroke-width="0.6"/>
<circle cx="344.6" cy="548.8" r="47.6" fill="none" stroke="#555" stroke-width="0.45"/>
<path d="M455.50,547.70L455.50,500.10A47.6,47.6 0 0,1 485.71,584.48Z" fill="#b0d090"/>
<path d="M455.50,547.70L486.10,584.16A47.6,47.6 0 0,1 457.99,595.23Z" fill="#8299ff"/>
<path d="M455.50,547.70L458.49,595.21A47.6,47.6 0 0,1 430.42,588.15Z" fill="#dcebdc"/>
<path d="M455.50,547.70L430.84,588.42A47.6,47.6 0 0,1 416.32,574.73Z" fill="#dcebdc"/>
<path d="M455.50,547.70L416.60,575.14A47.6,47.6 0 0,1 408.73,556.54Z" fill="#0323c8"/>
<path d="M455.50,547.70L408.82,557.03A47.6,47.6 0 0,1 408.65,539.27Z" fill="#4a8c04"/>
<path d="M455.50,547.70L408.57,539.76A47.6,47.6 0 0,1 412.61,527.06Z" fill="#80b050"/>
<path d="M455.50,547.70L412.39,527.51A47.6,47.6 0 0,1 418.72,517.49Z" fill="#dcebdc"/>
<path d="M455.50,547.70L418.40,517.87A47.6,47.6 0 0,1 420.14,515.84Z" fill="#dcebdc"/>
<path d="M455.50,547.70L419.80,516.21A47.6,47.6 0 0,1 421.63,514.26Z" fill="#dcebdc"/>
<path d="M455.50,547.70L421.28,514.61A47.6,47.6 0 0,1 423.19,512.75Z" fill="#dcebdc"/>
<path d="M455.50,547.70L422.82,513.09A47.6,47.6 0 0,1 424.82,511.31Z" fill="#dcebdc"/>
<path d="M455.50,547.70L424.44,511.63A47.6,47.6 0 0,1 426.51,509.94Z" fill="#dcebdc"/>
<path d="M455.50,547.70L426.12,510.25A47.6,47.6 0 0,1 428.27,508.66Z" fill="#dcebdc"/>
<path d="M455.50,547.70L427.86,508.95A47.6,47.6 0 0,1 430.08,507.46Z" fill="#dcebdc"/>
<path d="M455.50,547.70L429.66,507.73A47.6,47.6 0 0,1 431.94,506.34Z" fill="#dcebdc"/>
<path d="M455.50,547.70L431.51,506.59A47.6,47.6 0 0,1 433.85,505.31Z" fill="#dcebdc"/>
<path d="M455.50,547.70L433.41,505.54A47.6,47.6 0 0,1 435.81,504.36Z" fill="#dcebdc"/>
<path d="M455.50,547.70L435.36,504.57A47.6,47.6 0 0,1 437.81,503.51Z" fill="#dcebdc"/>
<path d="M455.50,547.70L437.35,503.70A47.6,47.6 0 0,1 439.85,502.75Z" fill="#dcebdc"/>
<path d="M455.50,547.70L439.38,502.91A47.6,47.6 0 0,1 440.63,502.48Z" fill="#222"/>
<path d="M455.50,547.70L440.16,502.64A47.6,47.6 0 0,1 455.50,500.10Z" fill="#929291"/>
<path d="M455.50,547.70L455.50,500.10M455.50,547.70L486.10,584.16M455.50,547.70L458.49,595.21M455.50,547.70L430.84,588.42M455.50,547.70L416.60,575.14M455.50,547.70L408.82,557.03M455.50,547.70L408.57,539.76M455.50,547.70L412.39,527.51M455.50,547.70L418.40,517.87M455.50,547.70L419.80,516.21M455.50,547.70L421.28,514.61M455.50,547.70L422.82,513.09M455.50,547.70L424.44,511.63M455.50,547.70L426.12,510.25M455.50,547.70L427.86,508.95M455.50,547.70L429.66,507.73M455.50,547.70L431.51,506.59M455.50,547.70L433.41,505.54M455.50,547.70L435.36,504.57M455.50,547.70L437.35,503.70M455.50,547.70L439.38,502.91M455.50,547.70L440.16,502.64" fill="none" stroke="#1e1e1e" stroke-width="0.6"/>
<circle cx="455.5" cy="547.7" r="47.6" fill="none" stroke="#555" stroke-width="0.45"/>
<text x="100.4" y="611.2" font-size="8.5" text-anchor="middle" textLength="48.5" lengthAdjust="spacingAndGlyphs" fill="#111" stroke="#111" stroke-width="0.18">Unstimulated</text>
<text x="100.4" y="621.8000000000001" font-size="8.5" text-anchor="middle" fill="#111" stroke="#111" stroke-width="0.18">γδ T cells</text>
<text x="206.5" y="611.2" font-size="8.5" text-anchor="middle" fill="#111" stroke="#111" stroke-width="0.18">EBV-stimulated</text>
<text x="206.5" y="621.8000000000001" font-size="8.5" text-anchor="middle" fill="#111" stroke="#111" stroke-width="0.18">γδ T cells</text>
<text x="345.0" y="611.2" font-size="8.5" text-anchor="middle" textLength="48.5" lengthAdjust="spacingAndGlyphs" fill="#111" stroke="#111" stroke-width="0.18">Unstimulated</text>
<text x="345.0" y="621.8000000000001" font-size="8.5" text-anchor="middle" fill="#111" stroke="#111" stroke-width="0.18">γδ T cells</text>
<text x="455.5" y="611.2" font-size="8.5" text-anchor="middle" fill="#111" stroke="#111" stroke-width="0.18">EBV-stimulated</text>
<text x="455.5" y="621.8000000000001" font-size="8.5" text-anchor="middle" fill="#111" stroke="#111" stroke-width="0.18">γδ T cells</text>
<rect x="53" y="637.6" width="13.7" height="7.7" fill="#0323c8"/>
<text x="71.8" y="644.3" font-size="8.5" textLength="78.2" lengthAdjust="spacingAndGlyphs" fill="#111" stroke="#111" stroke-width="0.18">ALWEVQELGKKIKV</text>
<rect x="53" y="657.2" width="13.7" height="7.7" fill="#dcebdc"/>
<text x="71.8" y="663.8" font-size="8.5" textLength="90.2" lengthAdjust="spacingAndGlyphs" fill="#111" stroke="#111" stroke-width="0.18">Other abundant CDR3γ</text>
<rect x="195.8" y="637.6" width="13.7" height="7.7" fill="#8299ff"/>
<text x="215" y="644.3" font-size="8.5" textLength="78" lengthAdjust="spacingAndGlyphs" fill="#111" stroke="#111" stroke-width="0.18">ALWEVRELGKKIKV</text>
<rect x="195.8" y="657.2" width="13.7" height="7.7" fill="#8c8c8c"/>
<text x="215" y="663.8" font-size="8.5" textLength="62" lengthAdjust="spacingAndGlyphs" fill="#111" stroke="#111" stroke-width="0.18">Diverse CDR3γ</text>
<rect x="316.9" y="642.1" width="16" height="5.9" fill="url(#g1)"/>
<rect x="316.9" y="647.9" width="16" height="5.9" fill="url(#g2)"/>
<rect x="316.9" y="653.8" width="16" height="5.9" fill="url(#g3)"/>
<rect x="334.7" y="642.1" width="16" height="5.9" fill="url(#g4)"/>
<rect x="334.7" y="647.9" width="16" height="5.9" fill="url(#g5)"/>
<rect x="334.7" y="653.8" width="16" height="5.9" fill="url(#g6)"/>
<text x="356.2" y="649.2" font-size="8.5" textLength="118.7" lengthAdjust="spacingAndGlyphs" fill="#111" stroke="#111" stroke-width="0.18">Dominant CDR3γ expressed by</text>
<text x="356.2" y="660.0" font-size="8.5" textLength="108.3" lengthAdjust="spacingAndGlyphs" fill="#111" stroke="#111" stroke-width="0.18">unstimulated γδ T cell clones</text>
<text x="9.5" y="701.1" font-size="16" font-weight="bold" fill="#000">C</text>
<text x="53.9" y="720.2" font-size="11.6" textLength="40.8" lengthAdjust="spacingAndGlyphs" fill="#111" stroke="#111" stroke-width="0.18">Group 1</text>
<path d="M56.1,727.22V784.0H228" fill="none" stroke="#000" stroke-width="1.45"/>
<path d="M52.1,784.0H56.1" stroke="#111" stroke-width="1.1"/>
<text x="47.7" y="786.8" font-size="7.9" text-anchor="end" fill="#111" stroke="#111" stroke-width="0.3">0</text>
<path d="M52.1,766.35H56.1" stroke="#111" stroke-width="1.1"/>
<text x="47.7" y="769.15" font-size="7.9" text-anchor="end" fill="#111" stroke="#111" stroke-width="0.3">1</text>
<path d="M52.1,748.7H56.1" stroke="#111" stroke-width="1.1"/>
<text x="47.7" y="751.5" font-size="7.9" text-anchor="end" fill="#111" stroke="#111" stroke-width="0.3">2</text>
<path d="M52.1,731.05H56.1" stroke="#111" stroke-width="1.1"/>
<text x="47.7" y="733.8499999999999" font-size="7.9" text-anchor="end" fill="#111" stroke="#111" stroke-width="0.3">3</text>
<text x="0" y="0" font-size="10.6" fill="#111" stroke="#111" stroke-width="0.45" text-anchor="middle" textLength="13.2" lengthAdjust="spacingAndGlyphs" transform="translate(35.1,754.9) rotate(-90)">Bits</text>
<text x="65.1" y="792.5" font-size="8.0" text-anchor="middle" fill="#111" stroke="#111" stroke-width="0.08">1</text>
<text x="77.17" y="792.5" font-size="8.0" text-anchor="middle" fill="#111" stroke="#111" stroke-width="0.08">2</text>
<text x="89.24" y="792.5" font-size="8.0" text-anchor="middle" fill="#111" stroke="#111" stroke-width="0.08">3</text>
<text x="101.31" y="792.5" font-size="8.0" text-anchor="middle" fill="#111" stroke="#111" stroke-width="0.08">4</text>
<text x="113.38" y="792.5" font-size="8.0" text-anchor="middle" fill="#111" stroke="#111" stroke-width="0.08">5</text>
<text x="125.45" y="792.5" font-size="8.0" text-anchor="middle" fill="#111" stroke="#111" stroke-width="0.08">6</text>
<text x="137.52" y="792.5" font-size="8.0" text-anchor="middle" fill="#111" stroke="#111" stroke-width="0.08">7</text>
<text x="149.59" y="792.5" font-size="8.0" text-anchor="middle" fill="#111" stroke="#111" stroke-width="0.08">8</text>
<text x="161.66" y="792.5" font-size="8.0" text-anchor="middle" fill="#111" stroke="#111" stroke-width="0.08">9</text>
<text x="173.73" y="792.5" font-size="8.0" text-anchor="middle" fill="#111" stroke="#111" stroke-width="0.08">10</text>
<text x="185.8" y="792.5" font-size="8.0" text-anchor="middle" fill="#111" stroke="#111" stroke-width="0.08">11</text>
<text x="197.87" y="792.5" font-size="8.0" text-anchor="middle" fill="#111" stroke="#111" stroke-width="0.08">12</text>
<text x="209.94" y="792.5" font-size="8.0" text-anchor="middle" fill="#111" stroke="#111" stroke-width="0.08">13</text>
<text x="222.01" y="792.5" font-size="8.0" text-anchor="middle" fill="#111" stroke="#111" stroke-width="0.08">14</text>
<text x="0" y="0" font-size="2048" font-weight="bold" fill="#000" transform="translate(58.69,781.20) scale(0.00801,0.02690)">A</text>
<text x="0" y="0" font-size="2048" font-weight="bold" fill="#000" transform="translate(69.74,781.20) scale(0.01047,0.02690)">L</text>
<text x="0" y="0" font-size="2048" font-weight="bold" fill="#000" transform="translate(83.23,781.20) scale(0.00570,0.02690)">W</text>
<text x="0" y="0" font-size="2048" font-weight="bold" fill="#ff2600" transform="translate(94.00,781.20) scale(0.00957,0.02650)">E</text>
<text x="0" y="0" font-size="2048" font-weight="bold" fill="#555" transform="translate(106.85,781.18) scale(0.00896,0.00105)">S</text>
<text x="0" y="0" font-size="2048" font-weight="bold" fill="#000" transform="translate(106.97,779.68) scale(0.00801,0.00242)">A</text>
<text x="0" y="0" font-size="2048" font-weight="bold" fill="#000" transform="translate(107.26,776.27) scale(0.00822,0.01775)">V</text>
<text x="0" y="0" font-size="2048" font-weight="bold" fill="#108a10" transform="translate(118.76,781.15) scale(0.00822,0.00261)">C</text>
<text x="0" y="0" font-size="2048" font-weight="bold" fill="#000" transform="translate(119.04,777.41) scale(0.00801,0.00134)">A</text>
<text x="0" y="0" font-size="2048" font-weight="bold" fill="#108a10" transform="translate(118.92,775.48) scale(0.00896,0.00183)">S</text>
<text x="0" y="0" font-size="2048" font-weight="bold" fill="#7a1a8a" transform="translate(118.80,768.86) scale(0.00773,0.00992)">Q</text>
<text x="0" y="0" font-size="2048" font-weight="bold" fill="#108a10" transform="translate(130.85,781.17) scale(0.00796,0.00131)">G</text>
<text x="0" y="0" font-size="2048" font-weight="bold" fill="#108a10" transform="translate(130.99,779.28) scale(0.00896,0.00144)">S</text>
<text x="0" y="0" font-size="2048" font-weight="bold" fill="#ff2600" transform="translate(130.21,777.22) scale(0.00957,0.02071)">E</text>
<text x="0" y="0" font-size="2048" font-weight="bold" fill="#000" transform="translate(143.47,781.20) scale(0.00822,0.00350)">V</text>
<text x="0" y="0" font-size="2048" font-weight="bold" fill="#000" transform="translate(142.16,776.27) scale(0.01047,0.02098)">L</text>
<text x="0" y="0" font-size="2048" font-weight="bold" fill="#108a10" transform="translate(154.99,780.68) scale(0.00796,0.02588)">G</text>
<text x="0" y="0" font-size="2048" font-weight="bold" fill="#0a20e0" transform="translate(166.59,781.20) scale(0.00831,0.02663)">K</text>
<text x="0" y="0" font-size="2048" font-weight="bold" fill="#0a20e0" transform="translate(178.66,781.20) scale(0.00831,0.02663)">K</text>
<path d="M192.37,744.25H202.37V747.02H198.41V778.43H202.37V781.20H192.37V778.43H196.33V747.02H192.37Z" fill="#000"/>
<text x="0" y="0" font-size="2048" font-weight="bold" fill="#0a20e0" transform="translate(202.80,781.20) scale(0.00831,0.02663)">K</text>
<text x="0" y="0" font-size="2048" font-weight="bold" fill="#000" transform="translate(215.89,781.20) scale(0.00822,0.02663)">V</text>
<text x="53.9" y="813.1" font-size="11.6" textLength="40.8" lengthAdjust="spacingAndGlyphs" fill="#111" stroke="#111" stroke-width="0.18">Group 1</text>
<path d="M56.1,820.22V877.0H228" fill="none" stroke="#000" stroke-width="1.45"/>
<path d="M52.1,877.0H56.1" stroke="#111" stroke-width="1.1"/>
<text x="47.7" y="879.8" font-size="7.9" text-anchor="end" fill="#111" stroke="#111" stroke-width="0.3">0</text>
<path d="M52.1,859.35H56.1" stroke="#111" stroke-width="1.1"/>
<text x="47.7" y="862.15" font-size="7.9" text-anchor="end" fill="#111" stroke="#111" stroke-width="0.3">1</text>
<path d="M52.1,841.7H56.1" stroke="#111" stroke-width="1.1"/>
<text x="47.7" y="844.5" font-size="7.9" text-anchor="end" fill="#111" stroke="#111" stroke-width="0.3">2</text>
<path d="M52.1,824.05H56.1" stroke="#111" stroke-width="1.1"/>
<text x="47.7" y="826.8499999999999" font-size="7.9" text-anchor="end" fill="#111" stroke="#111" stroke-width="0.3">3</text>
<text x="0" y="0" font-size="10.6" fill="#111" stroke="#111" stroke-width="0.45" text-anchor="middle" textLength="13.2" lengthAdjust="spacingAndGlyphs" transform="translate(35.1,847.9) rotate(-90)">Bits</text>
<text x="65.1" y="885.6" font-size="8.0" text-anchor="middle" fill="#111" stroke="#111" stroke-width="0.08">1</text>
<text x="77.17" y="885.6" font-size="8.0" text-anchor="middle" fill="#111" stroke="#111" stroke-width="0.08">2</text>
<text x="89.24" y="885.6" font-size="8.0" text-anchor="middle" fill="#111" stroke="#111" stroke-width="0.08">3</text>
<text x="101.31" y="885.6" font-size="8.0" text-anchor="middle" fill="#111" stroke="#111" stroke-width="0.08">4</text>
<text x="113.38" y="885.6" font-size="8.0" text-anchor="middle" fill="#111" stroke="#111" stroke-width="0.08">5</text>
<text x="125.45" y="885.6" font-size="8.0" text-anchor="middle" fill="#111" stroke="#111" stroke-width="0.08">6</text>
<text x="137.52" y="885.6" font-size="8.0" text-anchor="middle" fill="#111" stroke="#111" stroke-width="0.08">7</text>
<text x="149.59" y="885.6" font-size="8.0" text-anchor="middle" fill="#111" stroke="#111" stroke-width="0.08">8</text>
<text x="161.66" y="885.6" font-size="8.0" text-anchor="middle" fill="#111" stroke="#111" stroke-width="0.08">9</text>
<text x="173.73" y="885.6" font-size="8.0" text-anchor="middle" fill="#111" stroke="#111" stroke-width="0.08">10</text>
<text x="185.8" y="885.6" font-size="8.0" text-anchor="middle" fill="#111" stroke="#111" stroke-width="0.08">11</text>
<text x="197.87" y="885.6" font-size="8.0" text-anchor="middle" fill="#111" stroke="#111" stroke-width="0.08">12</text>
<text x="209.94" y="885.6" font-size="8.0" text-anchor="middle" fill="#111" stroke="#111" stroke-width="0.08">13</text>
<text x="222.01" y="885.6" font-size="8.0" text-anchor="middle" fill="#111" stroke="#111" stroke-width="0.08">14</text>
<text x="0" y="0" font-size="2048" font-weight="bold" fill="#000" transform="translate(58.69,874.30) scale(0.00801,0.02548)">A</text>
<text x="0" y="0" font-size="2048" font-weight="bold" fill="#000" transform="translate(69.74,874.30) scale(0.01047,0.02548)">L</text>
<text x="0" y="0" font-size="2048" font-weight="bold" fill="#000" transform="translate(83.23,874.30) scale(0.00570,0.02548)">W</text>
<text x="0" y="0" font-size="2048" font-weight="bold" fill="#ff2600" transform="translate(94.00,874.30) scale(0.00957,0.02548)">E</text>
<text x="0" y="0" font-size="2048" font-weight="bold" fill="#000" transform="translate(107.26,874.30) scale(0.00822,0.02548)">V</text>
<text x="0" y="0" font-size="2048" font-weight="bold" fill="#0a6a0a" transform="translate(118.78,874.27) scale(0.00796,0.00149)">G</text>
<text x="0" y="0" font-size="2048" font-weight="bold" fill="#4a9a4a" transform="translate(118.92,872.11) scale(0.00896,0.00161)">S</text>
<text x="0" y="0" font-size="2048" font-weight="bold" fill="#0a20e0" transform="translate(118.29,869.81) scale(0.00846,0.00306)">R</text>
<text x="0" y="0" font-size="2048" font-weight="bold" fill="#7a1a8a" transform="translate(118.80,862.74) scale(0.00773,0.00685)">Q</text>
<text x="0" y="0" font-size="2048" font-weight="bold" fill="#ff2600" transform="translate(130.21,874.30) scale(0.00957,0.02548)">E</text>
<text x="0" y="0" font-size="2048" font-weight="bold" fill="#000" transform="translate(142.16,874.30) scale(0.01047,0.02548)">L</text>
<text x="0" y="0" font-size="2048" font-weight="bold" fill="#108a10" transform="translate(154.99,873.80) scale(0.00796,0.02476)">G</text>
<text x="0" y="0" font-size="2048" font-weight="bold" fill="#0a20e0" transform="translate(166.59,874.30) scale(0.00831,0.02548)">K</text>
<text x="0" y="0" font-size="2048" font-weight="bold" fill="#0a20e0" transform="translate(178.66,874.30) scale(0.00831,0.02548)">K</text>
<path d="M192.37,839.12H202.37V841.76H198.41V871.66H202.37V874.30H192.37V871.66H196.33V841.76H192.37Z" fill="#000"/>
<text x="0" y="0" font-size="2048" font-weight="bold" fill="#0a20e0" transform="translate(202.80,874.30) scale(0.00831,0.02548)">K</text>
<text x="0" y="0" font-size="2048" font-weight="bold" fill="#000" transform="translate(215.89,874.30) scale(0.00822,0.02548)">V</text>
<text x="90.7" y="902.1" font-size="10.8" fill="#111" stroke="#111" stroke-width="0.4" textLength="102" lengthAdjust="spacingAndGlyphs">Position in CDR3γ sequence</text>
<text x="270" y="701.1" font-size="16" font-weight="bold" fill="#000">D</text>
<path d="M347.70,761.70L347.70,713.90A47.8,47.8 0 0,1 389.05,785.67Z" fill="#0a28d2"/>
<path d="M347.70,761.70L389.30,785.24A47.8,47.8 0 0,1 381.79,795.20Z" fill="#2452f6"/>
<path d="M347.70,761.70L382.14,794.84A47.8,47.8 0 0,1 376.07,800.17Z" fill="#2b58f6"/>
<path d="M347.70,761.70L376.47,799.87A47.8,47.8 0 0,1 370.80,803.55Z" fill="#325ef7"/>
<path d="M347.70,761.70L371.24,803.30A47.8,47.8 0 0,1 365.30,806.14Z" fill="#3a63f7"/>
<path d="M347.70,761.70L365.76,805.96A47.8,47.8 0 0,1 361.20,807.56Z" fill="#4169f8"/>
<path d="M347.70,761.70L361.68,807.41A47.8,47.8 0 0,1 356.66,808.65Z" fill="#486ff8"/>
<path d="M347.70,761.70L357.15,808.56A47.8,47.8 0 0,1 353.03,809.20Z" fill="#4f75f9"/>
<path d="M347.70,761.70L353.53,809.14A47.8,47.8 0 0,1 349.70,809.46Z" fill="#567bf9"/>
<path d="M347.70,761.70L350.20,809.43A47.8,47.8 0 0,1 345.78,809.46Z" fill="#5e80fa"/>
<path d="M347.70,761.70L346.28,809.48A47.8,47.8 0 0,1 342.21,809.18Z" fill="#6586fa"/>
<path d="M347.70,761.70L342.70,809.24A47.8,47.8 0 0,1 338.33,808.57Z" fill="#6c8cfa"/>
<path d="M347.70,761.70L338.83,808.67A47.8,47.8 0 0,1 334.69,807.69Z" fill="#7392fb"/>
<path d="M347.70,761.70L335.17,807.83A47.8,47.8 0 0,1 330.88,806.44Z" fill="#7a98fb"/>
<path d="M347.70,761.70L331.35,806.62A47.8,47.8 0 0,1 327.05,804.81Z" fill="#829dfc"/>
<path d="M347.70,761.70L327.50,805.02A47.8,47.8 0 0,1 323.37,802.84Z" fill="#89a3fc"/>
<path d="M347.70,761.70L323.80,803.10A47.8,47.8 0 0,1 319.94,800.61Z" fill="#90a9fd"/>
<path d="M347.70,761.70L320.35,800.90A47.8,47.8 0 0,1 316.78,798.16Z" fill="#97affd"/>
<path d="M347.70,761.70L317.17,798.48A47.8,47.8 0 0,1 313.72,795.32Z" fill="#9eb5fe"/>
<path d="M347.70,761.70L314.08,795.68A47.8,47.8 0 0,1 311.03,792.36Z" fill="#a6bafe"/>
<path d="M347.70,761.70L311.35,792.74A47.8,47.8 0 0,1 308.88,789.59Z" fill="#adc0ff"/>
<path d="M347.70,761.70L309.18,790.00A47.8,47.8 0 0,1 307.03,786.82Z" fill="#b4c6ff"/>
<path d="M347.70,761.70L307.30,787.24A47.8,47.8 0 0,1 305.85,784.80Z" fill="#a81000"/>
<path d="M347.70,761.70L306.10,785.24A47.8,47.8 0 0,1 304.88,782.95Z" fill="#d81800"/>
<path d="M347.70,761.70L305.11,783.40A47.8,47.8 0 0,1 303.20,779.14Z" fill="#ff2200"/>
<path d="M347.70,761.70L303.38,779.61A47.8,47.8 0 0,1 302.16,776.23Z" fill="#ff7a60"/>
<path d="M347.70,761.70L302.32,776.71A47.8,47.8 0 0,1 301.84,775.20Z" fill="#f0e0e8"/>
<path d="M347.70,761.70L301.99,775.68A47.8,47.8 0 0,1 301.14,772.53Z" fill="#c4d2ff"/>
<path d="M347.70,761.70L301.26,773.02A47.8,47.8 0 0,1 300.51,769.34Z" fill="#e2e8ff"/>
<path d="M347.70,761.70L300.60,769.84A47.8,47.8 0 0,1 347.70,713.90Z" fill="#929291"/>
<path d="M347.70,761.70L347.70,713.90M347.70,761.70L389.30,785.24M347.70,761.70L382.14,794.84M347.70,761.70L376.47,799.87M347.70,761.70L371.24,803.30M347.70,761.70L365.76,805.96M347.70,761.70L361.68,807.41M347.70,761.70L357.15,808.56M347.70,761.70L353.53,809.14M347.70,761.70L350.20,809.43M347.70,761.70L346.28,809.48M347.70,761.70L342.70,809.24M347.70,761.70L338.83,808.67M347.70,761.70L335.17,807.83M347.70,761.70L331.35,806.62M347.70,761.70L327.50,805.02M347.70,761.70L323.80,803.10M347.70,761.70L320.35,800.90M347.70,761.70L317.17,798.48M347.70,761.70L314.08,795.68M347.70,761.70L311.35,792.74M347.70,761.70L309.18,790.00M347.70,761.70L307.30,787.24M347.70,761.70L306.10,785.24M347.70,761.70L305.11,783.40M347.70,761.70L303.38,779.61M347.70,761.70L302.32,776.71M347.70,761.70L301.99,775.68M347.70,761.70L301.26,773.02M347.70,761.70L300.60,769.84" fill="none" stroke="#151525" stroke-width="0.55"/>
<circle cx="347.7" cy="761.7" r="47.8" fill="none" stroke="#444" stroke-width="0.5"/>
<text x="370.85" y="750.8" font-size="9.2" text-anchor="middle" fill="#fff" stroke="#fff" stroke-width="0.18">33%</text>
<path d="M459.20,761.20L459.20,713.40A47.8,47.8 0 0,1 496.56,791.02Z" fill="#ff2a00"/>
<path d="M459.20,761.20L496.87,790.63A47.8,47.8 0 0,1 437.95,804.02Z" fill="#0a28d2"/>
<path d="M459.20,761.20L438.40,804.24A47.8,47.8 0 0,1 429.31,798.50Z" fill="#2452f6"/>
<path d="M459.20,761.20L429.71,798.82A47.8,47.8 0 0,1 423.34,792.81Z" fill="#2a5af6"/>
<path d="M459.20,761.20L423.68,793.18A47.8,47.8 0 0,1 420.94,789.85Z" fill="#3462f6"/>
<path d="M459.20,761.20L421.24,790.25A47.8,47.8 0 0,1 418.85,786.83Z" fill="#3966f6"/>
<path d="M459.20,761.20L419.13,787.26A47.8,47.8 0 0,1 417.08,783.80Z" fill="#3e6af7"/>
<path d="M459.20,761.20L417.32,784.24A47.8,47.8 0 0,1 415.59,780.77Z" fill="#436df7"/>
<path d="M459.20,761.20L415.80,781.22A47.8,47.8 0 0,1 414.36,777.77Z" fill="#4871f8"/>
<path d="M459.20,761.20L414.54,778.24A47.8,47.8 0 0,1 413.38,774.81Z" fill="#4d75f8"/>
<path d="M459.20,761.20L413.52,775.29A47.8,47.8 0 0,1 412.62,771.92Z" fill="#5279f9"/>
<path d="M459.20,761.20L412.73,772.41A47.8,47.8 0 0,1 412.06,769.11Z" fill="#577df9"/>
<path d="M459.20,761.20L412.14,769.60A47.8,47.8 0 0,1 411.68,766.38Z" fill="#5c80f9"/>
<path d="M459.20,761.20L411.74,766.88A47.8,47.8 0 0,1 411.47,763.75Z" fill="#6184fa"/>
<path d="M459.20,761.20L411.50,764.25A47.8,47.8 0 0,1 411.40,761.21Z" fill="#6688fa"/>
<path d="M459.20,761.20L411.40,761.71A47.8,47.8 0 0,1 411.46,758.78Z" fill="#6a8cfb"/>
<path d="M459.20,761.20L411.44,759.28A47.8,47.8 0 0,1 411.64,756.44Z" fill="#6f90fb"/>
<path d="M459.20,761.20L411.59,756.94A47.8,47.8 0 0,1 411.91,754.22Z" fill="#7494fc"/>
<path d="M459.20,761.20L411.84,754.71A47.8,47.8 0 0,1 412.28,752.09Z" fill="#7997fc"/>
<path d="M459.20,761.20L412.18,752.58A47.8,47.8 0 0,1 412.71,750.07Z" fill="#7e9bfc"/>
<path d="M459.20,761.20L412.60,750.56A47.8,47.8 0 0,1 413.22,748.15Z" fill="#839ffd"/>
<path d="M459.20,761.20L413.08,748.63A47.8,47.8 0 0,1 413.77,746.32Z" fill="#88a3fd"/>
<path d="M459.20,761.20L413.62,746.80A47.8,47.8 0 0,1 414.38,744.59Z" fill="#8da7fe"/>
<path d="M459.20,761.20L414.21,745.06A47.8,47.8 0 0,1 415.02,742.96Z" fill="#92aafe"/>
<path d="M459.20,761.20L414.83,743.42A47.8,47.8 0 0,1 415.69,741.41Z" fill="#97aeff"/>
<path d="M459.20,761.20L415.48,741.87A47.8,47.8 0 0,1 416.38,739.95Z" fill="#9cb2ff"/>
<path d="M459.20,761.20L416.16,740.40A47.8,47.8 0 0,1 416.92,738.91Z" fill="#e87060"/>
<path d="M459.20,761.20L416.69,739.35A47.8,47.8 0 0,1 459.20,713.40Z" fill="#929291"/>
<path d="M459.20,761.20L459.20,713.40M459.20,761.20L496.87,790.63M459.20,761.20L438.40,804.24M459.20,761.20L429.71,798.82M459.20,761.20L423.68,793.18M459.20,761.20L421.24,790.25M459.20,761.20L419.13,787.26M459.20,761.20L417.32,784.24M459.20,761.20L415.80,781.22M459.20,761.20L414.54,778.24M459.20,761.20L413.52,775.29M459.20,761.20L412.73,772.41M459.20,761.20L412.14,769.60M459.20,761.20L411.74,766.88M459.20,761.20L411.50,764.25M459.20,761.20L411.40,761.71M459.20,761.20L411.44,759.28M459.20,761.20L411.59,756.94M459.20,761.20L411.84,754.71M459.20,761.20L412.18,752.58M459.20,761.20L412.60,750.56M459.20,761.20L413.08,748.63M459.20,761.20L413.62,746.80M459.20,761.20L414.21,745.06M459.20,761.20L414.83,743.42M459.20,761.20L415.48,741.87M459.20,761.20L416.16,740.40M459.20,761.20L416.69,739.35" fill="none" stroke="#151525" stroke-width="0.45"/>
<circle cx="459.2" cy="761.2" r="47.8" fill="none" stroke="#444" stroke-width="0.5"/>
<text x="483.45" y="752.3" font-size="9.2" text-anchor="middle" fill="#fff" stroke="#fff" stroke-width="0.18">36%</text>
<text x="466.8" y="791.7" font-size="9.2" text-anchor="middle" fill="#fff" stroke="#fff" stroke-width="0.18">21%</text>
<text x="276.9" y="787.7" font-size="8.8" textLength="24.8" lengthAdjust="spacingAndGlyphs" fill="#111" stroke="#111" stroke-width="0.18">0.01%</text>
<path d="M276.9,789.4H302.9L304.8,783" fill="none" stroke="#222" stroke-width="0.7"/>
<text x="347.5" y="824.6" font-size="8.5" text-anchor="middle" textLength="48.5" lengthAdjust="spacingAndGlyphs" fill="#111" stroke="#111" stroke-width="0.18">Unstimulated</text>
<text x="347.5" y="835.2" font-size="8.5" text-anchor="middle" fill="#111" stroke="#111" stroke-width="0.18">γδ T cells</text>
<text x="458.6" y="824.6" font-size="8.5" text-anchor="middle" fill="#111" stroke="#111" stroke-width="0.18">EBV-stimulated</text>
<text x="458.6" y="835.2" font-size="8.5" text-anchor="middle" fill="#111" stroke="#111" stroke-width="0.18">γδ T cells</text>
<rect x="298.8" y="856.2" width="13.5" height="7.7" fill="url(#gb)"/>
<path d="M306.1,863.9V875.1H315" fill="none" stroke="#444" stroke-width="1"/>
<rect x="314.6" y="871.8" width="13.2" height="7.1" fill="#0a28d2"/>
<text x="317.5" y="863.1" font-size="8.5" textLength="53.7" lengthAdjust="spacingAndGlyphs" fill="#111" stroke="#111" stroke-width="0.18">CDR3γ V9-JP</text>
<text x="330.2" y="877.0" font-size="8.5" textLength="78.5" lengthAdjust="spacingAndGlyphs" fill="#111" stroke="#111" stroke-width="0.18">ALWEVQELGKKIKV</text>
<rect x="423" y="856.5" width="13.9" height="7.4" fill="url(#gr)"/>
<path d="M429.4,863.9V875.2H437" fill="none" stroke="#444" stroke-width="1"/>
<rect x="437" y="872.1" width="13.3" height="7.2" fill="#ff2010"/>
<text x="441.5" y="863.1" font-size="8.5" textLength="52" lengthAdjust="spacingAndGlyphs" fill="#111" stroke="#111" stroke-width="0.18">CDR3γ V9-J2</text>
<text x="453" y="877.0" font-size="8.5" textLength="54.8" lengthAdjust="spacingAndGlyphs" fill="#111" stroke="#111" stroke-width="0.18">ALWEGHKKL</text>
<rect x="362" y="891.3" width="13.5" height="7.5" fill="#8c8c8c"/>
<text x="382" y="897.4" font-size="8.5" textLength="52.2" lengthAdjust="spacingAndGlyphs" fill="#111" stroke="#111" stroke-width="0.18">Other CDR3γ</text>
<rect x="0.9" y="0.9" width="518.2" height="913.2" fill="none" stroke="#000" stroke-width="1.8"/>
</svg>
</body></html>
